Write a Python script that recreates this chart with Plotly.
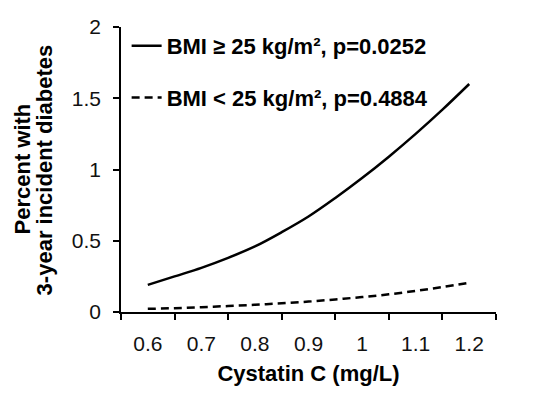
import plotly.graph_objects as go

cystatin_c = [0.6, 0.65, 0.7, 0.75, 0.8, 0.85, 0.9, 0.95, 1.0, 1.05, 1.1, 1.15, 1.2]
bmi_high = [0.19, 0.25, 0.31, 0.38, 0.46, 0.56, 0.67, 0.80, 0.94, 1.09, 1.25, 1.42, 1.60]
bmi_low = [0.022, 0.027, 0.034, 0.042, 0.051, 0.061, 0.073, 0.088, 0.105, 0.124, 0.148, 0.175, 0.205]

x_ticks = [0.6, 0.7, 0.8, 0.9, 1.0, 1.1, 1.2]
x_tick_labels = ["0.6", "0.7", "0.8", "0.9", "1", "1.1", "1.2"]
x_boundaries = [0.55, 0.65, 0.75, 0.85, 0.95, 1.05, 1.15, 1.25]
y_ticks = [0, 0.5, 1, 1.5, 2]
y_tick_labels = ["0", "0.5", "1", "1.5", "2"]

FONT = "Liberation Sans, Arial, sans-serif"

fig = go.Figure()
fig.add_trace(go.Scatter(
    x=cystatin_c, y=bmi_high, mode="lines", line_shape="spline",
    line=dict(color="black", width=2.5),
    name="<b>BMI ≥ 25 kg/m², p=0.0252</b>", legendgroup="a"))
fig.add_trace(go.Scatter(
    x=cystatin_c, y=bmi_low, mode="lines", line_shape="spline",
    line=dict(color="black", width=2.5, dash="8px,5px"),
    name="<b>BMI < 25 kg/m², p=0.4884</b>", legendgroup="b"))

fig.update_layout(
    width=538, height=389,
    margin=dict(l=113, r=50, t=19, b=85, autoexpand=False),
    paper_bgcolor="white", plot_bgcolor="white",
    font=dict(family=FONT, color="black"),
    showlegend=True,
    legend=dict(x=0.015, y=1.007, xanchor="left", yanchor="top",
                bgcolor="rgba(0,0,0,0)", font=dict(size=22, color="black"),
                tracegroupgap=20, itemwidth=30),
    xaxis=dict(
        range=[0.55, 1.25], showgrid=False, zeroline=False,
        showline=True, linecolor="black", linewidth=1.5,
        tickmode="array", tickvals=x_ticks, ticktext=x_tick_labels,
        ticks="", ticklabelstandoff=12,
        tickfont=dict(size=21, color="#111"),
        minor=dict(tickmode="array", tickvals=x_boundaries, ticks="outside",
                   ticklen=6, tickwidth=1.5, tickcolor="black", showgrid=False),
        title=dict(text="<b>Cystatin C (mg/L)</b>", font=dict(size=22), standoff=12),
    ),
    yaxis=dict(
        range=[0, 2], showgrid=False, zeroline=False,
        showline=True, linecolor="black", linewidth=1.5,
        tickmode="array", tickvals=y_ticks, ticktext=y_tick_labels,
        ticks="outside", ticklen=6, tickwidth=1.5, tickcolor="black",
        ticklabelstandoff=8,
        tickfont=dict(size=21, color="#111"),
    ),
)

fig.add_annotation(text="<b>Percent with</b>", textangle=-90, xref="paper", yref="paper",
                   x=-0.264, y=0.5, xanchor="center", yanchor="middle", showarrow=False,
                   font=dict(size=22, color="black"))
fig.add_annotation(text="<b>3-year incident diabetes</b>", textangle=-90, xref="paper", yref="paper",
                   x=-0.203, y=0.5, xanchor="center", yanchor="middle", showarrow=False,
                   font=dict(size=22, color="black"))

fig.write_html("out.html")
